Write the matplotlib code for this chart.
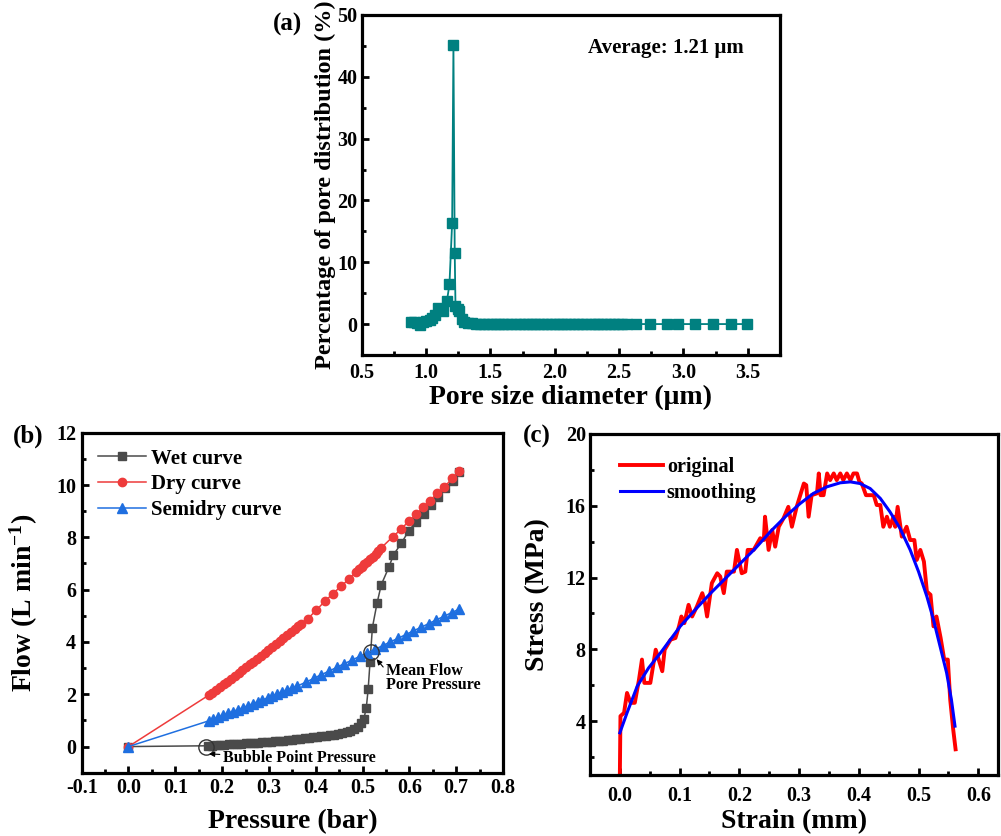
import matplotlib
matplotlib.use("Agg")
import matplotlib.pyplot as plt
from matplotlib.ticker import MultipleLocator

plt.rcParams['font.family'] = 'serif'
plt.rcParams['font.serif'] = ['Liberation Serif', 'DejaVu Serif']
plt.rcParams['font.weight'] = 'bold'
plt.rcParams['axes.labelweight'] = 'bold'
plt.rcParams['axes.unicode_minus'] = False
plt.rcParams['mathtext.fontset'] = 'custom'
plt.rcParams['mathtext.rm'] = 'Liberation Serif:bold'
plt.rcParams['mathtext.bf'] = 'Liberation Serif:bold'
plt.rcParams['mathtext.it'] = 'Liberation Serif:bold'

# --- (a) pore size distribution ---
pore_d = [0.886, 0.905, 0.93, 0.951, 0.975, 1.0, 1.028, 1.05, 1.07, 1.092, 1.131, 1.162,
          1.182, 1.203, 1.213, 1.223, 1.229, 1.245, 1.26, 1.28, 1.298, 1.33, 1.36,
          1.389, 1.42, 1.45, 1.48, 1.51, 1.54, 1.57, 1.60, 1.63, 1.66, 1.70, 1.73, 1.76,
          1.79, 1.82, 1.85, 1.88, 1.91, 1.94, 1.97, 2.00, 2.03, 2.06, 2.09, 2.12, 2.15,
          2.18, 2.21, 2.24, 2.28, 2.31, 2.34, 2.37, 2.40, 2.43, 2.46, 2.49, 2.52, 2.56,
          2.63, 2.74, 2.875, 2.954, 3.089, 3.23, 3.372, 3.495]
pore_pct = [0.4, 0.3, 0.1, -0.2, 0.4, 0.5, 0.6, 0.9, 1.4, 2.6, 2.1, 3.7,
            6.4, 16.4, 45.1, 11.5, 2.9, 2.4, 2.1, 0.8, 0.4, 0.2, 0.1,
            0.05, 0.02, 0.0, 0.0, 0.0, 0.0, 0.0, 0.0, 0.0, 0.0, 0.0, 0.0, 0.0,
            0.0, 0.0, 0.0, 0.0, 0.0, 0.0, 0.0, 0.0, 0.0, 0.0, 0.0, 0.0, 0.0,
            0.0, 0.0, 0.0, 0.0, 0.0, 0.0, 0.0, 0.0, 0.0, 0.0, 0.0, 0.0, 0.0,
            0.0, 0.0, 0.0, 0.0, 0.0, 0.0, 0.0, 0.0]

# --- (b) flow vs pressure ---
wet_p = [0, 0.170, 0.178, 0.187, 0.196, 0.205, 0.214, 0.223, 0.232, 0.241, 0.250, 0.259,
         0.268, 0.277, 0.286, 0.295, 0.304, 0.313, 0.322, 0.331, 0.340, 0.349, 0.358,
         0.367, 0.376, 0.385, 0.394, 0.403, 0.412, 0.421, 0.430, 0.439, 0.448, 0.457,
         0.466, 0.474, 0.482, 0.490, 0.497, 0.503, 0.508, 0.512, 0.516, 0.521, 0.531,
         0.540, 0.556, 0.566, 0.583, 0.599, 0.615, 0.631, 0.647, 0.662, 0.677, 0.693, 0.707]
wet_f = [0, 0.03, 0.04, 0.05, 0.06, 0.07, 0.08, 0.09, 0.10, 0.11, 0.12, 0.13,
         0.14, 0.15, 0.16, 0.18, 0.19, 0.20, 0.22, 0.23, 0.25, 0.26, 0.28,
         0.29, 0.31, 0.33, 0.35, 0.37, 0.39, 0.41, 0.43, 0.45, 0.48, 0.51,
         0.55, 0.60, 0.66, 0.75, 0.90, 1.07, 1.49, 2.20, 3.25, 4.55, 5.49,
         6.19, 6.85, 7.33, 7.78, 8.26, 8.60, 8.89, 9.24, 9.56, 9.87, 10.17, 10.50]

dry_p = [0, 0.171, 0.179, 0.187, 0.195, 0.203, 0.211, 0.219, 0.227, 0.235, 0.243, 0.251,
         0.259, 0.267, 0.275, 0.283, 0.291, 0.299, 0.307, 0.315, 0.323, 0.331, 0.339,
         0.347, 0.355, 0.363, 0.368, 0.383, 0.401, 0.419, 0.437, 0.453, 0.471, 0.485,
         0.492, 0.498, 0.504, 0.510, 0.516, 0.522, 0.528, 0.534, 0.540, 0.565, 0.583,
         0.599, 0.615, 0.629, 0.643, 0.660, 0.675, 0.692, 0.707]
dry_f = [0, 1.96, 2.06, 2.17, 2.27, 2.38, 2.48, 2.59, 2.70, 2.81, 2.92, 3.03,
         3.14, 3.25, 3.36, 3.47, 3.58, 3.69, 3.80, 3.92, 4.03, 4.14, 4.26,
         4.38, 4.49, 4.61, 4.68, 4.89, 5.21, 5.55, 5.85, 6.12, 6.40, 6.68,
         6.78, 6.87, 6.97, 7.06, 7.16, 7.26, 7.36, 7.46, 7.60, 8.03, 8.32,
         8.63, 8.88, 9.15, 9.40, 9.68, 9.94, 10.25, 10.55]

semi_p = [0, 0.171, 0.181, 0.192, 0.202, 0.213, 0.223, 0.234, 0.244, 0.255, 0.265, 0.276,
          0.286, 0.297, 0.307, 0.318, 0.328, 0.339, 0.349, 0.360, 0.380, 0.396, 0.412,
          0.429, 0.445, 0.461, 0.478, 0.494, 0.510, 0.527, 0.543, 0.559, 0.576, 0.592,
          0.608, 0.625, 0.641, 0.657, 0.674, 0.690, 0.707]
semi_f = [0, 0.98, 1.05, 1.12, 1.19, 1.27, 1.34, 1.41, 1.48, 1.56, 1.63, 1.71,
          1.78, 1.86, 1.93, 2.01, 2.08, 2.16, 2.23, 2.31, 2.47, 2.61, 2.75,
          2.89, 3.03, 3.17, 3.31, 3.45, 3.58, 3.72, 3.86, 4.00, 4.14, 4.28,
          4.42, 4.56, 4.70, 4.84, 4.98, 5.12, 5.26]

bubble_pt = (0.165, 0.0)
mean_flow_pt = (0.519, 3.62)

# --- (c) stress-strain ---
strain = [0.000, 0.001, 0.007, 0.012, 0.018, 0.025, 0.032, 0.037, 0.041, 0.051, 0.060,
          0.065, 0.071, 0.075, 0.085, 0.093, 0.099, 0.103, 0.108, 0.115, 0.121, 0.129,
          0.138, 0.142, 0.146, 0.154, 0.163, 0.168, 0.174, 0.179, 0.191, 0.196, 0.204,
          0.210, 0.214, 0.224, 0.235, 0.241, 0.243, 0.249, 0.255, 0.260, 0.266, 0.274,
          0.282, 0.288, 0.296, 0.302, 0.308, 0.312, 0.316, 0.321, 0.330, 0.333, 0.336,
          0.341, 0.347, 0.352, 0.358, 0.363, 0.369, 0.374, 0.380, 0.386, 0.391, 0.397,
          0.401, 0.405, 0.412, 0.425, 0.430, 0.436, 0.441, 0.447, 0.452, 0.458, 0.461,
          0.465, 0.472, 0.480, 0.486, 0.493, 0.497, 0.503, 0.509, 0.514, 0.520, 0.525,
          0.530, 0.537, 0.543, 0.549, 0.553, 0.558, 0.562]
stress = [1.04, 4.28, 4.46, 5.57, 5.02, 5.02, 6.31, 7.43, 6.13, 6.13, 7.98,
          7.43, 6.78, 7.98, 8.54, 8.63, 9.28, 9.83, 9.46, 10.48, 9.83, 10.39,
          11.13, 10.67, 9.83, 11.69, 12.24, 12.06, 11.13, 12.33, 12.33, 13.54, 12.24,
          12.33, 13.54, 13.54, 14.19, 14.09, 15.39, 13.54, 14.65, 13.72, 14.83, 15.30,
          15.94, 14.83, 15.94, 16.59, 17.24, 17.15, 15.39, 16.59, 16.69, 17.80, 16.59,
          16.59, 17.80, 17.43, 17.80, 17.43, 17.80, 17.43, 17.80, 17.43, 17.80, 17.80,
          17.33, 17.24, 16.59, 16.59, 16.04, 16.04, 14.83, 15.39, 14.83, 15.39, 14.83,
          15.94, 14.28, 14.83, 14.09, 14.09, 12.98, 13.54, 12.89, 11.22, 11.04, 9.28,
          9.83, 8.63, 7.43, 7.43, 5.20, 3.54, 2.43]

smooth_strain = [0.000, 0.012, 0.029, 0.048, 0.068, 0.101, 0.126, 0.152, 0.177, 0.202,
                 0.227, 0.252, 0.277, 0.302, 0.324, 0.347, 0.369, 0.386, 0.402, 0.419,
                 0.436, 0.452, 0.469, 0.486, 0.500, 0.514, 0.525, 0.536, 0.547, 0.555, 0.561]
smooth_stress = [3.35, 4.46, 5.94, 6.96, 7.80, 9.28, 10.20, 11.13, 11.96, 12.80,
                 13.63, 14.56, 15.39, 16.13, 16.69, 17.06, 17.28, 17.33, 17.24, 16.96,
                 16.41, 15.67, 14.74, 13.54, 12.33, 10.94, 9.65, 8.17, 6.69, 5.20, 3.72]

TEAL = '#008080'
GREY = '#4a4a4a'
RED = '#ee3b3b'
BLUE = '#1f6fe0'


def style_axes(ax, xmaj, xmin, ymaj, ymin, xpad=8, ypad=3):
    for s in ax.spines.values():
        s.set_linewidth(2.3)
    ax.xaxis.set_major_locator(MultipleLocator(xmaj))
    ax.xaxis.set_minor_locator(MultipleLocator(xmin))
    ax.yaxis.set_major_locator(MultipleLocator(ymaj))
    ax.yaxis.set_minor_locator(MultipleLocator(ymin))
    ax.tick_params(which='both', direction='in', top=False, right=False, width=2,
                   labelsize=14.5)
    ax.tick_params(which='major', length=5)
    ax.tick_params(which='minor', length=3)
    ax.tick_params(axis='x', which='major', pad=xpad)
    ax.tick_params(axis='y', which='major', pad=ypad)


fig = plt.figure(figsize=(10.01, 8.36), dpi=100)

# panel (a)
ax1 = fig.add_axes([0.3613, 0.5754, 0.4179, 0.4067])
ax1.plot(pore_d, pore_pct, color=TEAL, lw=1.3, marker='s', ms=7, mec=TEAL, mfc=TEAL)
ax1.set_xlim(0.5, 3.75)
ax1.set_ylim(-5, 50)
style_axes(ax1, 0.5, 0.25, 10, 5, xpad=6, ypad=3)
ax1.set_xlabel('Pore size diameter (μm)', fontsize=20, labelpad=1)
ax1.set_ylabel('Percentage of pore distribution (%)', fontsize=17.5, labelpad=1)
ax1.text(0.914, 0.903, 'Average: 1.21 μm', transform=ax1.transAxes, ha='right',
         va='center', fontsize=15)
fig.text(287 / 1001, 1 - 24 / 836, '(a)', fontsize=18, ha='center', va='center')

# panel (b)
ax2 = fig.add_axes([0.0816, 0.0757, 0.4209, 0.4067])
ax2.plot(wet_p, wet_f, color=GREY, lw=1.1, marker='s', ms=5.5, label='Wet curve')
ax2.plot(dry_p, dry_f, color=RED, lw=1.1, marker='o', ms=6, label='Dry curve')
ax2.plot(semi_p, semi_f, color=BLUE, lw=1.1, marker='^', ms=6.5, label='Semidry curve')
ax2.plot(*bubble_pt, marker='o', ms=11, mfc='none', mec='#333333', mew=1.0)
ax2.plot(*mean_flow_pt, marker='o', ms=11, mfc='none', mec='#333333', mew=1.0)
ax2.annotate('Bubble Point Pressure', xy=(0.172, -0.28), xytext=(0.201, -0.45),
             fontsize=11.5, va='center', ha='left',
             arrowprops=dict(arrowstyle='-|>', color='black', lw=0.8,
                             mutation_scale=8, shrinkA=0, shrinkB=0))
ax2.annotate('Mean Flow\nPore Pressure', xy=(0.530, 3.34), xytext=(0.550, 2.62),
             fontsize=11.5, va='center', ha='left', linespacing=0.9,
             arrowprops=dict(arrowstyle='-|>', color='black', lw=0.8,
                             mutation_scale=8, shrinkA=0, shrinkB=0,
                             relpos=(0, 0.75)))
ax2.set_xlim(-0.1, 0.8)
ax2.set_ylim(-1, 12)
style_axes(ax2, 0.1, 0.05, 2, 1, xpad=4, ypad=4)
ax2.set_xlabel('Pressure (bar)', fontsize=20, labelpad=8)
ax2.set_ylabel('Flow (L min$^{-1}$)', fontsize=20)
ax2.yaxis.set_label_coords(-0.099, 0.5)
ax2.legend(loc='upper left', bbox_to_anchor=(0.018, 0.978), frameon=False, fontsize=15,
           handlelength=2.3, handletextpad=0.25, labelspacing=0.28, borderaxespad=0)
fig.text(28 / 1001, 1 - 436 / 836, '(b)', fontsize=18, ha='center', va='center')

# panel (c)
ax3 = fig.add_axes([0.5894, 0.0730, 0.4076, 0.4079])
ax3.plot(strain, stress, color='red', lw=2.8, label='original')
ax3.plot(smooth_strain, smooth_stress, color='blue', lw=2.2, label='smoothing')
ax3.set_xlim(-0.05, 0.633)
ax3.set_ylim(1, 20)
style_axes(ax3, 0.1, 0.05, 4, 2, xpad=8, ypad=3)
ax3.set_xlabel('Strain (mm)', fontsize=20, labelpad=2)
ax3.set_ylabel('Stress (MPa)', fontsize=20)
ax3.yaxis.set_label_coords(-0.098, 0.53)
ax3.legend(loc='upper left', bbox_to_anchor=(0.055, 0.955), frameon=False, fontsize=14.5,
           handlelength=2.1, handletextpad=0.2, labelspacing=0.3, borderaxespad=0)
fig.text(537 / 1001, 1 - 436 / 836, '(c)', fontsize=18, ha='center', va='center')

fig.savefig('out.png', dpi=100)
